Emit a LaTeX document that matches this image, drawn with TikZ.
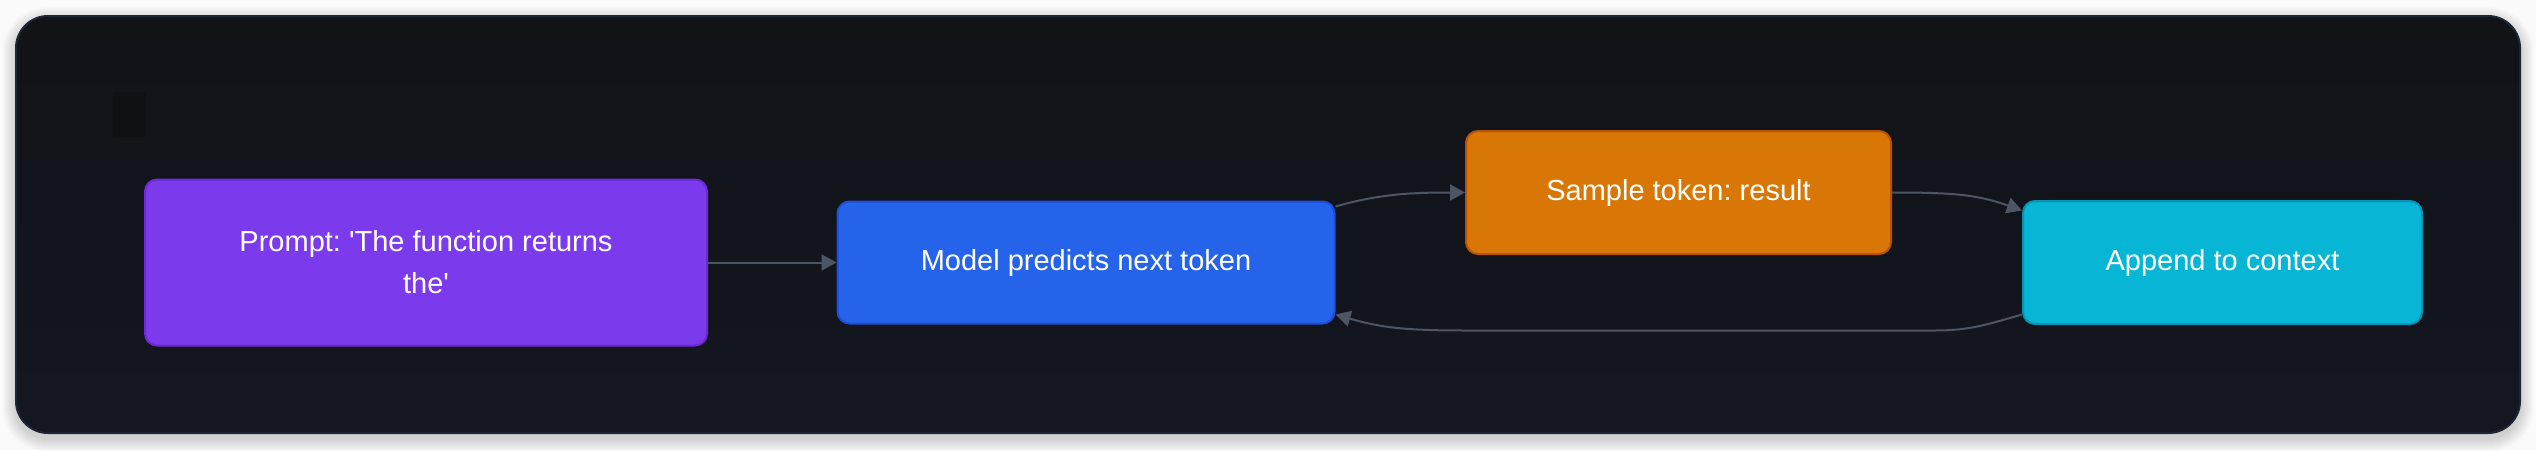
\documentclass[tikz,border=0pt]{standalone}
\usepackage{fontspec}
\setmainfont{Liberation Sans}
\frenchspacing
\usetikzlibrary{arrows.meta,calc}
\definecolor{pagebg}{HTML}{FAFAFA}
\definecolor{cardtop}{HTML}{111317}
\definecolor{cardbot}{HTML}{141621}
\definecolor{cardborder}{HTML}{1E2533}
\definecolor{edgec}{HTML}{4B5563}
\definecolor{purplefill}{HTML}{7C3AED}
\definecolor{purpleline}{HTML}{6D28D9}
\definecolor{bluefill}{HTML}{2563EB}
\definecolor{blueline}{HTML}{1D4ED8}
\definecolor{orangefill}{HTML}{D97706}
\definecolor{orangeline}{HTML}{B45309}
\definecolor{cyanfill}{HTML}{06B6D4}
\definecolor{cyanline}{HTML}{0891B2}
\definecolor{faintbox}{HTML}{0F1114}
\tikzset{
  flowbox/.style={rectangle, rounded corners=12pt, line width=2pt, text=white,
    align=center, inner sep=0pt,
    font=\fontsize{29}{42}\selectfont},
  flowedge/.style={draw=edgec, line width=2pt,
    -{Triangle[length=15pt,width=16pt]}},
}
\begin{document}
\begin{tikzpicture}[x=1pt,y=-1pt]
\useasboundingbox (0,0) rectangle (2536,450);
\fill[pagebg] (0,0) rectangle (2536,450);
% card shadow
\foreach \i in {1,...,14} {
  \fill[black, opacity=0.012, rounded corners=32pt+\i pt]
    (16-\i,16-\i+5) rectangle (2520+\i,433+\i+5);
}
% card
\shade[top color=cardtop, bottom color=cardbot, rounded corners=32pt]
  (16,16) rectangle (2520,433);
\draw[cardborder, line width=2pt, rounded corners=32pt]
  (16,16) rectangle (2520,433);
\fill[faintbox] (113,92) rectangle (146,137);

% nodes
\node[flowbox, fill=purplefill, draw=purpleline, minimum width=562pt, minimum height=166pt]
  (prompt) at (426,262.5) {Prompt: \textquotesingle The function returns\\the\textquotesingle};
\node[flowbox, fill=bluefill, draw=blueline, minimum width=497pt, minimum height=122pt]
  (model) at (1086,262.5) {Model predicts next token};
\node[flowbox, fill=orangefill, draw=orangeline, minimum width=425pt, minimum height=123pt]
  (sample) at (1678.5,192.5) {Sample token: result};
\node[flowbox, fill=cyanfill, draw=cyanline, minimum width=399pt, minimum height=123pt]
  (append) at (2222.5,262.5) {Append to context};

% edges
\draw[flowedge] (prompt.east) -- (model.west);
\draw[flowedge] ([yshift=56pt]model.east) .. controls +(45,-13) and +(-50,0) .. (sample.west);
\draw[flowedge] (sample.east) .. controls +(60,0) and +(-45,-16) .. ([yshift=52pt]append.west);
\draw[flowedge] ([yshift=-52pt]append.west) .. controls +(-35,10) and +(35,0) .. (1935,330.5)
  -- (1465,330.5) .. controls +(-60,0) and +(45,13) .. ([yshift=-52pt]model.east);
\end{tikzpicture}
\end{document}
